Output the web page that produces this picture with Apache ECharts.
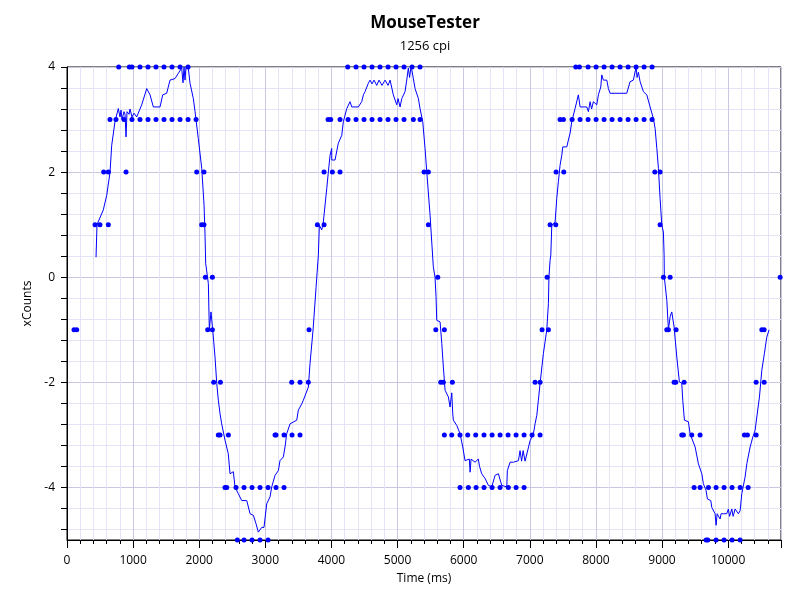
<!DOCTYPE html>
<html>
<head>
<meta charset="utf-8">
<script src="https://cdn.jsdelivr.net/npm/echarts@6/dist/echarts.min.js"></script>
<style>html,body{margin:0;padding:0;background:#fff}#c{width:800px;height:600px}</style>
</head>
<body>
<div id="c"></div>
<script>
// Scatter samples (raw counts)
const pointTime = [106,147, 424,499,625, 555,625,893,
 650,741,862,983,1104,1225,1346,1467,1589,1710,1831,1952,
 782,943,983,1104,1225,1346,1467,1589,1710,1831,
 1962,2072, 2037,2072, 2093,2199, 2128,2199, 2219,2320, 2289,2315,2441,
 2390,2416,2557,2678,2799,2920,3041,3162,3283,
 2577,2678,2799,2920,3041,
 3147,3162,3283,3404,3525, 3399,3525,3650, 3661,
 3787,3888, 3888,4014,4130,
 3949,3989,4130,4251,4372,4493,4614,4735,4856,4977,5098,5239,5340,
 4246,4372,4493,4614,4735,4856,4977,5098,5219,5340,
 5401,5466, 5466, 5608, 5578,5708, 5653,5693,5829,
 5708,5819,5945,6061,6182,6308,6430,6551,6672,6793,6914,7035,7156,
 5945,6071,6188,6308,6430,6551,6676,6793,6914,
 7080,7156, 7186,7282, 7262, 7307,7393, 7398,7514,
 7458,7509,7640,7761,7882,8003,8124,8245,8366,8487,8608,8729,8850,
 7696,7751,7882,8003,8124,8245,8366,8487,8608,8729,8850,
 8891,8971, 8971, 9022,9123, 9072,9097,9213, 9183,9208,9334,
 9299,9324,9450,9576,
 9486,9576,9702,9818,9939,10060,10182,10303,
 9667,9692,9818,9939,10060,10182,
 10247,10292,10424, 10424,10545, 10510,10545, 10787];
const pointCount = [-1,-1, 1,1,1, 2,2,2,
 3,3,3,3,3,3,3,3,3,3,3,3,
 4,4,4,4,4,4,4,4,4,4,
 2,2, 1,1, 0,0, -1,-1, -2,-2, -3,-3,-3,
 -4,-4,-4,-4,-4,-4,-4,-4,-4,
 -5,-5,-5,-5,-5,
 -3,-3,-3,-3,-3, -2,-2,-2, -1,
 1,1, 2,2,2,
 3,3,3,3,3,3,3,3,3,3,3,3,3,
 4,4,4,4,4,4,4,4,4,4,
 2,2, 1, 0, -1,-1, -2,-2,-2,
 -3,-3,-3,-3,-3,-3,-3,-3,-3,-3,-3,-3,-3,
 -4,-4,-4,-4,-4,-4,-4,-4,-4,
 -2,-2, -1,-1, 0, 1,1, 2,2,
 3,3,3,3,3,3,3,3,3,3,3,3,3,
 4,4,4,4,4,4,4,4,4,4,4,
 2,2, 1, 0,0, -1,-1,-1, -2,-2,-2,
 -3,-3,-3,-3,
 -4,-4,-4,-4,-4,-4,-4,-4,
 -5,-5,-5,-5,-5,-5,
 -3,-3,-3, -2,-2, -1,-1, 0];

// Smoothed trace
const lineTime = [439,454,549,601,651,676,726,776,802,817,832,862,878,893,908,938,953,983,1014,1054,
 1130,1206,1256,1306,1407,1448,1508,1558,1634,1684,1735,1755,1770,1785,1800,1835,1861,1911,1937,1986,
 2038,2073,2088,2098,2138,2153,2178,2204,2239,2265,2289,2315,2340,2390,2440,2466,2516,2541,2592,2643,
 2719,2769,2819,2859,2894,2946,2980,3021,3071,3097,3147,3197,3222,3272,3298,3323,3374,3475,3499,3551,
 3575,3651,3676,3722,3767,3802,3817,3853,3877,3929,3953,3979,4004,4005,4054,4104,4156,4180,4232,4281,
 4307,4407,4458,4483,4508,4558,4584,4614,4644,4685,4720,4765,4811,4856,4887,4936,4988,5007,5038,5064,
 5113,5139,5163,5182,5204,5215,5265,5315,5340,5381,5416,5442,5492,5517,5541,5567,5582,5593,5617,5643,
 5669,5693,5719,5769,5794,5820,5835,5844,5896,5946,5986,6021,6086,6097,6112,6172,6222,6240,6273,6324,
 6374,6425,6475,6525,6576,6652,6661,6702,6752,6828,6853,6876,6899,6929,6955,7005,7055,7080,7106,7130,
 7156,7206,7257,7282,7290,7307,7318,7333,7383,7408,7433,7458,7484,7499,7560,7584,7610,7635,7685,7735,
 7761,7862,7887,7912,7935,7962,8013,8038,8074,8089,8114,8165,8189,8215,8467,8517,8567,8608,8623,8643,
 8669,8719,8770,8820,8870,8896,8922,8946,8971,8997,9021,9032,9035,9073,9097,9123,9148,9183,9224,9263,
 9299,9314,9339,9399,9425,9501,9551,9602,9626,9667,9687,9738,9753,9803,9818,9834,9853,9879,9894,9929,
 9980,10004,10022,10056,10076,10106,10156,10182,10207,10257,10283,10333,10374,10409,10434,10474,10510,10549,10585,10620];
const lineCount = [0.38,1.0,1.28,1.56,2.0,2.51,2.96,3.21,3.05,3.18,3.0,3.15,3.1,2.67,3.15,3.1,3.2,3.05,3.12,3.05,
 3.28,3.59,3.47,3.24,3.24,3.47,3.5,3.75,3.78,3.88,3.98,3.7,4.0,3.75,4.0,3.98,3.69,3.40,3.15,2.64,
 2.07,1.37,0.8,0.26,-0.12,-1.0,-0.66,-1.0,-1.52,-2.02,-2.34,-2.6,-2.79,-3.1,-3.36,-3.74,-3.7,-3.99,-4.12,-4.25,
 -4.25,-4.5,-4.53,-4.69,-4.85,-4.76,-4.76,-4.31,-4.18,-3.99,-3.77,-3.68,-3.49,-3.42,-3.23,-2.98,-2.79,-2.72,-2.53,-2.41,
 -2.34,-2.09,-1.64,-1.0,-0.2,0.42,0.99,0.9,1.05,1.69,2.0,2.32,2.45,2.23,2.23,2.55,2.70,2.96,3.21,3.34,
 3.24,3.24,3.34,3.47,3.53,3.69,3.75,3.68,3.75,3.65,3.75,3.65,3.75,3.65,3.75,3.47,3.28,3.4,3.24,3.40,
 3.53,3.75,3.98,3.8,4.0,3.95,3.59,3.40,3.21,2.96,2.45,2.0,1.18,0.67,0.2,0.0,-0.37,-0.82,-0.79,-0.85,
 -1.26,-1.71,-2.15,-2.28,-2.47,-2.2,-2.6,-2.72,-2.82,-2.98,-3.23,-3.49,-3.46,-3.71,-3.46,-3.52,-3.46,-3.6,-3.74,-3.83,
 -3.96,-3.99,-3.77,-3.74,-3.96,-3.99,-3.68,-3.52,-3.52,-3.49,-3.30,-3.5,-3.3,-3.5,-3.49,-3.11,-2.98,-2.79,-2.63,-2.34,
 -2.02,-1.45,-1.0,-0.5,0.0,0.32,0.42,0.99,1.05,1.5,1.82,2.13,2.32,2.48,2.48,2.61,2.74,2.96,3.21,3.47,
 3.24,3.24,3.15,3.34,3.2,3.34,3.28,3.47,3.62,3.85,3.75,3.75,3.59,3.50,3.50,3.72,3.75,4.0,3.8,3.9,
 3.72,3.53,3.47,3.24,3.02,2.83,2.45,2.07,1.5,0.99,0.86,0.42,0.0,-0.44,-1.0,-0.75,-0.66,-0.95,-1.52,-1.99,
 -2.02,-2.34,-2.72,-2.75,-2.98,-3.23,-3.55,-3.74,-3.93,-4.06,-4.22,-4.25,-4.38,-4.50,-4.72,-4.5,-4.50,-4.6,-4.5,-4.50,
 -4.50,-4.41,-4.55,-4.41,-4.55,-4.41,-4.50,-4.44,-4.12,-3.80,-3.55,-3.23,-3.04,-2.91,-2.66,-2.28,-1.77,-1.45,-1.14,-1.0];

// Axis ticks
const yMajorTicks = [-4, -2, 0, 2, 4];
const yMinorTicks = [];
for (let k = 0; k <= 22; k++) yMinorTicks.push(Math.round((4 - 0.4 * k) * 10) / 10);

const FONT = 'Open Sans';
const chart = echarts.init(document.getElementById('c'), null, {renderer: 'canvas'});
const scatterData = pointTime.map((t, i) => [t, pointCount[i]]);
const lineData = lineTime.map((t, i) => [t, lineCount[i]]);

chart.setOption({
  animation: false,
  backgroundColor: '#fff',
  textStyle: {fontFamily: FONT},
  title: {
    text: 'MouseTester', subtext: '1256 cpi',
    left: 420, textAlign: 'center', top: 10, itemGap: 8,
    textStyle: {fontFamily: FONT, fontSize: 17, fontWeight: 'bold', color: '#000'},
    subtextStyle: {fontFamily: FONT, fontSize: 13, color: '#000'}
  },
  grid: {left: 67, right: 19, top: 67, bottom: 60, show: true, borderColor: '#000', borderWidth: 1, backgroundColor: 'transparent'},
  xAxis: [
    {type: 'value', min: 0, max: 10800, interval: 200, position: 'bottom',
     name: 'Time (ms)', nameLocation: 'middle', nameGap: 33,
     nameTextStyle: {fontFamily: FONT, fontSize: 12, color: '#000'},
     axisLine: {onZero: false, lineStyle: {color: '#000', width: 1}},
     axisTick: {show: true, length: 4, inside: false, lineStyle: {color: '#000'}},
     axisLabel: {margin: 15, fontSize: 12, color: '#000', fontFamily: FONT,
       formatter: v => (v % 1000 === 0 ? String(v) : '')},
     splitLine: {show: true, lineStyle: {color: '#e4e4f8', width: 1}}},
    {type: 'value', min: 0, max: 10800, interval: 1000, position: 'bottom', offset: 0,
     axisLine: {show: false, onZero: false},
     axisTick: {show: true, length: 8, lineStyle: {color: '#000'}},
     axisLabel: {show: false},
     splitLine: {show: true, lineStyle: {color: '#c8c8e0', width: 1}}}
  ],
  yAxis: [
    {type: 'value', min: -5, max: 4, position: 'left',
     name: 'xCounts', nameLocation: 'middle', nameGap: 25, nameRotate: 90,
     nameTextStyle: {fontFamily: FONT, fontSize: 12, color: '#000'},
     axisLine: {show: true, onZero: false, lineStyle: {color: '#000', width: 1}},
     axisTick: {show: true, length: 6, customValues: yMinorTicks, lineStyle: {color: '#000'}},
     axisLabel: {customValues: yMajorTicks, margin: 12, fontSize: 12, color: '#000', fontFamily: FONT},
     splitLine: {show: true, lineStyle: {color: '#e4e4f8', width: 1}}},
    {type: 'value', min: -5, max: 4, position: 'left', offset: 0,
     axisLine: {show: false, onZero: false},
     axisTick: {show: false, customValues: yMajorTicks},
     axisLabel: {show: false, customValues: yMajorTicks},
     splitLine: {show: true, lineStyle: {color: '#c8c8e0', width: 1}}}
  ],
  series: [
    {type: 'line', xAxisIndex: 0, yAxisIndex: 0, data: lineData, showSymbol: false, symbol: 'none',
     lineStyle: {color: '#0000ff', width: 1}, itemStyle: {color: '#0000ff'}, clip: false, z: 3},
    {type: 'scatter', xAxisIndex: 0, yAxisIndex: 0, data: scatterData, symbolSize: 5,
     itemStyle: {color: '#0000ff', opacity: 1}, clip: false, z: 4}
  ]
});
</script>
</body>
</html>
